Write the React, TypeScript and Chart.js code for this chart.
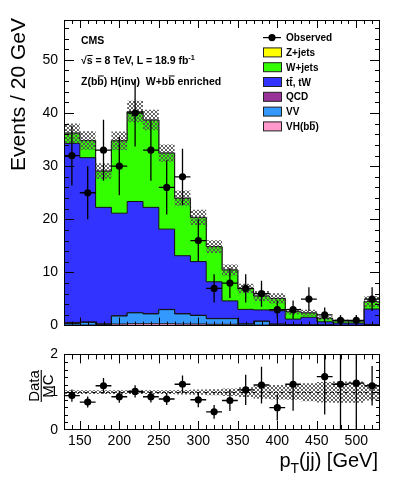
import React, { useEffect, useRef } from 'react';
import { Chart, registerables } from 'chart.js';

Chart.register(...registerables);

// ---------------- data ----------------
const binEdges = [130, 150, 170, 190, 210, 230, 250, 270, 290, 310, 330, 350, 370, 390, 410, 430, 450, 470, 490, 510, 530];
const binCenters = [140, 160, 180, 200, 220, 240, 260, 280, 300, 320, 340, 360, 380, 400, 420, 440, 460, 480, 500, 520];
const observed = [32, 25, 33, 30, 40, 33, 26, 28, 16, 7, 8, 7, 6, 3, 3, 5, 2, 1, 1, 5];
const vhBB = [0.1, 0.1, 0.1, 0.3, 0.35, 0.35, 0.35, 0.3, 0.3, 0.25, 0.25, 0.1, 0.1, 0.1, 0.05, 0.05, 0.05, 0.02, 0.02, 0.05];
const diboson = [0.3, 0.5, 0.15, 1.5, 2.05, 1.85, 2.65, 1.9, 1.6, 1.05, 1.05, 0.2, 0.7, 0.15, 0.15, 0.1, 0.05, 0.03, 0.03, 0.15];
const qcd = [0.2, 0.1, 0.1, 0.05, 0.05, 0.05, 0.05, 0.05, 0.05, 0.05, 0.05, 0.05, 0.05, 0.05, 0.02, 0.02, 0.02, 0.02, 0.02, 0.02];
const ttbarTW = [33.7, 30.9, 21.9, 19.3, 20.9, 20.0, 15.1, 10.9, 10.1, 6.9, 3.3, 2.7, 2.1, 2.5, 1.0, 1.4, 0.6, 0.4, 0.4, 2.9];
const wJets = [1.9, 3.2, 6.8, 13.6, 16.9, 16.4, 14.3, 10.8, 8.3, 6.6, 5.8, 3.9, 2.6, 2.3, 1.4, 0.8, 0.65, 0.4, 0.35, 1.4];
const zJets = [0.02, 0.02, 0.02, 0.02, 0.02, 0.02, 0.02, 0.02, 0.02, 0.02, 0.02, 0.02, 0.02, 0.02, 0.02, 0.02, 0.02, 0.02, 0.02, 0.02];
const mcRelUnc = [0.05, 0.05, 0.05, 0.05, 0.05, 0.05, 0.05, 0.06, 0.07, 0.08, 0.1, 0.13, 0.17, 0.19, 0.2, 0.24, 0.27, 0.28, 0.28, 0.22];
const ratioValues: (number | null)[] = [0.91, 0.74, 1.17, 0.88, 1.02, 0.88, 0.82, 1.21, 0.8, 0.48, 0.78, 1.06, 1.19, 0.59, 1.21, null, 1.41, 1.21, 1.24, 1.17];
const xTickValues = [150, 200, 250, 300, 350, 400, 450, 500];
const yMainTicks = [0, 10, 20, 30, 40, 50];
const yRatioTicks = [0, 1, 2];

const FONT = '"Liberation Sans", Arial, Helvetica, sans-serif';

const colors = {
  vh: '#ff99cc',
  vv: '#3399ff',
  qcd: '#993399',
  tt: '#3333ff',
  w: '#33ff00',
  z: '#ffff00',
};

type Seg = { t: string; bar?: boolean; sup?: boolean; sub?: boolean };

function drawSegs(ctx: CanvasRenderingContext2D, x: number, y: number, segs: Seg[], size: number, weight: string) {
  let cx = x;
  for (const s of segs) {
    const sz = s.sup || s.sub ? size * 0.7 : size;
    ctx.font = `${weight} ${sz}px ${FONT}`;
    const dy = s.sup ? -size * 0.42 : s.sub ? size * 0.3 : 0;
    ctx.fillText(s.t, cx, y + dy);
    const w = ctx.measureText(s.t).width;
    if (s.bar) ctx.fillRect(cx + 0.5, y - size * 0.86, w - 0.5, Math.max(1, size * 0.09));
    cx += w;
  }
  return cx;
}

function makeHatch(): CanvasPattern | string {
  const c = document.createElement('canvas');
  c.width = 4;
  c.height = 4;
  const g = c.getContext('2d');
  if (!g) return 'rgba(128,128,128,0.5)';
  g.strokeStyle = 'rgba(80,80,80,1)';
  g.lineWidth = 0.9;
  g.beginPath();
  g.moveTo(0, 0);
  g.lineTo(4, 4);
  g.moveTo(4, 0);
  g.lineTo(0, 4);
  g.stroke();
  return g.createPattern(c, 'repeat') || 'rgba(128,128,128,0.5)';
}

const stepData = (vals: number[]) => binEdges.map((x, i) => ({ x, y: vals[Math.min(i, vals.length - 1)] }));

function drawFrameTicks(
  chart: any,
  yMinor: number[],
  yMajor: number[],
  yLens: [number, number],
  xLens: [number, number]
) {
  const { ctx, chartArea: a } = chart;
  const xs = chart.scales.x;
  const ys = chart.scales.y;
  ctx.save();
  ctx.strokeStyle = '#000';
  ctx.lineWidth = 1;
  ctx.beginPath();
  for (let v = 140; v < 530; v += 10) {
    const px = Math.round(xs.getPixelForValue(v)) + 0.5;
    const len = v % 50 === 0 ? xLens[0] : xLens[1];
    ctx.moveTo(px, a.bottom);
    ctx.lineTo(px, a.bottom - len);
    ctx.moveTo(px, a.top);
    ctx.lineTo(px, a.top + len);
  }
  const drawY = (v: number, len: number) => {
    const py = Math.round(ys.getPixelForValue(v)) + 0.5;
    ctx.moveTo(a.left, py);
    ctx.lineTo(a.left + len, py);
    ctx.moveTo(a.right, py);
    ctx.lineTo(a.right - len, py);
  };
  yMinor.forEach((v) => drawY(v, yLens[1]));
  yMajor.forEach((v) => drawY(v, yLens[0]));
  ctx.stroke();
  ctx.strokeRect(Math.round(a.left) + 0.5, Math.round(a.top) + 0.5, Math.round(a.right - a.left) - 1, Math.round(a.bottom - a.top) - 1);
  ctx.restore();
}

const App = () => {
  const mainRef = useRef<HTMLCanvasElement>(null);
  const ratioRef = useRef<HTMLCanvasElement>(null);

  useEffect(() => {
    if (!mainRef.current || !ratioRef.current) return;
    Chart.defaults.font.family = FONT;
    Chart.defaults.color = '#000';
    const hatch = makeHatch();

    const comps = [
      { data: vhBB, color: colors.vh },
      { data: diboson, color: colors.vv },
      { data: qcd, color: colors.qcd },
      { data: ttbarTW, color: colors.tt },
      { data: wJets, color: colors.w },
      { data: zJets, color: colors.z },
    ];
    const total = binCenters.map((_, i) => comps.reduce((s, c) => s + c.data[i], 0));
    const bandLo = total.map((t, i) => t * (1 - mcRelUnc[i]));
    const bandHi = total.map((t, i) => t * (1 + mcRelUnc[i]));

    const mainDatasets: any[] = comps.map((c, i) => ({
      type: 'line',
      data: stepData(c.data),
      stepped: true,
      fill: i === 0 ? 'origin' : '-1',
      backgroundColor: c.color,
      borderColor: '#111',
      borderWidth: 1,
      pointRadius: 0,
      stack: 'mc',
      order: 1,
    }));
    mainDatasets.push(
      {
        type: 'line',
        data: stepData(bandLo),
        stepped: true,
        fill: false,
        borderWidth: 0,
        borderColor: 'rgba(0,0,0,0)',
        pointRadius: 0,
        stack: 'bandLo',
        order: 0,
      },
      {
        type: 'line',
        data: stepData(bandHi),
        stepped: true,
        fill: '-1',
        backgroundColor: hatch,
        borderWidth: 0,
        borderColor: 'rgba(0,0,0,0)',
        pointRadius: 0,
        stack: 'bandHi',
        order: 0,
      },
      {
        type: 'line',
        data: binCenters.map((x, i) => ({ x, y: observed[i] })),
        showLine: false,
        pointRadius: 3.6,
        pointBackgroundColor: '#000',
        pointBorderColor: '#000',
        pointBorderWidth: 0,
        stack: 'obs',
        order: -1,
      }
    );

    const mainPlugin = {
      id: 'mainDecor',
      afterDatasetsDraw(chart: any) {
        const { ctx } = chart;
        const xs = chart.scales.x;
        const ys = chart.scales.y;
        // error bars
        ctx.save();
        ctx.strokeStyle = '#000';
        ctx.lineWidth = 1.3;
        ctx.beginPath();
        observed.forEach((n, i) => {
          const e = Math.sqrt(n);
          const px = xs.getPixelForValue(binCenters[i]);
          const py = ys.getPixelForValue(n);
          ctx.moveTo(px, ys.getPixelForValue(n - e));
          ctx.lineTo(px, ys.getPixelForValue(n + e));
          ctx.moveTo(xs.getPixelForValue(binEdges[i]), py);
          ctx.lineTo(xs.getPixelForValue(binEdges[i + 1]), py);
        });
        ctx.stroke();
        ctx.restore();

        const yMinor: number[] = [];
        for (let v = 2; v < 57.5; v += 2) if (v % 10 !== 0) yMinor.push(v);
        drawFrameTicks(chart, yMinor, yMainTicks.filter((v) => v > 0), [10, 5], [8, 4]);

        // annotations
        ctx.save();
        ctx.fillStyle = '#000';
        ctx.textAlign = 'left';
        ctx.textBaseline = 'alphabetic';
        drawSegs(ctx, 81, 44.3, [{ t: 'CMS' }], 10.5, 'bold');
        drawSegs(ctx, 81, 64, [{ t: '√' }, { t: 's', bar: true }, { t: ' = 8 TeV, L = 18.9 fb' }, { t: '-1', sup: true }], 10.5, 'bold');
        drawSegs(ctx, 81, 84.5, [{ t: 'Z(b' }, { t: 'b', bar: true }, { t: ') H(inv)  W+b' }, { t: 'b', bar: true }, { t: ' enriched' }], 10.5, 'bold');

        // legend
        const rows: { segs: Seg[]; color?: string }[] = [
          { segs: [{ t: 'Observed' }] },
          { segs: [{ t: 'Z+jets' }], color: colors.z },
          { segs: [{ t: 'W+jets' }], color: colors.w },
          { segs: [{ t: 't' }, { t: 't', bar: true }, { t: ', tW' }], color: colors.tt },
          { segs: [{ t: 'QCD' }], color: colors.qcd },
          { segs: [{ t: 'VV' }], color: colors.vv },
          { segs: [{ t: 'VH(b' }, { t: 'b', bar: true }, { t: ')' }], color: colors.vh },
        ];
        rows.forEach((r, i) => {
          const cy = 37.6 + i * 14.8;
          if (!r.color) {
            ctx.strokeStyle = '#000';
            ctx.lineWidth = 1.2;
            ctx.beginPath();
            ctx.moveTo(263, cy);
            ctx.lineTo(281, cy);
            ctx.stroke();
            ctx.beginPath();
            ctx.arc(272, cy, 3.6, 0, Math.PI * 2);
            ctx.fill();
          } else {
            ctx.fillStyle = r.color;
            ctx.fillRect(263, cy - 4.5, 18, 9);
            ctx.strokeStyle = '#222';
            ctx.lineWidth = 1;
            ctx.strokeRect(263.5, cy - 4.5, 18, 9);
            ctx.fillStyle = '#000';
          }
          drawSegs(ctx, 286, cy + 3.6, r.segs, 10, 'bold');
        });

        // y title
        ctx.translate(25, 18);
        ctx.rotate(-Math.PI / 2);
        ctx.textAlign = 'right';
        ctx.font = `21px ${FONT}`;
        ctx.fillText('Events / 20 GeV', 0, 0);
        ctx.restore();
      },
    };

    const mainChart = new Chart(mainRef.current, {
      type: 'line',
      data: { datasets: mainDatasets },
      options: {
        animation: false,
        responsive: false,
        devicePixelRatio: 1,
        layout: { padding: { top: 20, right: 19, bottom: 12, left: 0 } },
        plugins: { legend: { display: false }, tooltip: { enabled: false } },
        scales: {
          x: { type: 'linear', min: 130, max: 530, display: false },
          y: {
            type: 'linear',
            min: 0,
            max: 57.5,
            stacked: true,
            afterBuildTicks: (a: any) => {
              a.ticks = yMainTicks.map((v) => ({ value: v }));
            },
            afterFit: (s: any) => {
              s.width = 64;
            },
            grid: { display: false, drawTicks: false },
            border: { display: false },
            ticks: { color: '#000', font: { size: 14, family: FONT }, padding: 6, autoSkip: false },
          },
        },
      } as any,
      plugins: [mainPlugin],
    });

    // ---------------- ratio ----------------
    const ratioDatasets: any[] = [
      {
        type: 'line',
        data: stepData(mcRelUnc.map((u) => 1 - u)),
        stepped: true,
        fill: false,
        borderWidth: 0,
        borderColor: 'rgba(0,0,0,0)',
        pointRadius: 0,
        order: 1,
      },
      {
        type: 'line',
        data: stepData(mcRelUnc.map((u) => 1 + u)),
        stepped: true,
        fill: '-1',
        backgroundColor: hatch,
        borderWidth: 0,
        borderColor: 'rgba(0,0,0,0)',
        pointRadius: 0,
        order: 1,
      },
      {
        type: 'line',
        data: binCenters.map((x, i) => ({ x, y: ratioValues[i] })),
        showLine: false,
        pointRadius: 3.6,
        pointBackgroundColor: '#000',
        pointBorderColor: '#000',
        pointBorderWidth: 0,
        order: -1,
      },
    ];

    const ratioPlugin = {
      id: 'ratioDecor',
      beforeDatasetsDraw(chart: any) {
        const { ctx, chartArea: a } = chart;
        const ys = chart.scales.y;
        ctx.save();
        ctx.strokeStyle = '#000';
        ctx.lineWidth = 1;
        ctx.setLineDash([4, 3]);
        const py = Math.round(ys.getPixelForValue(1)) + 0.5;
        ctx.beginPath();
        ctx.moveTo(a.left, py);
        ctx.lineTo(a.right, py);
        ctx.stroke();
        ctx.restore();
      },
      afterDatasetsDraw(chart: any) {
        const { ctx, chartArea: a } = chart;
        const xs = chart.scales.x;
        const ys = chart.scales.y;
        ctx.save();
        ctx.beginPath();
        ctx.rect(a.left, a.top, a.right - a.left, a.bottom - a.top);
        ctx.clip();
        ctx.strokeStyle = '#000';
        ctx.lineWidth = 1.3;
        ctx.beginPath();
        ratioValues.forEach((r, i) => {
          if (r === null) return;
          const e = r / Math.sqrt(observed[i]);
          const px = xs.getPixelForValue(binCenters[i]);
          const py = ys.getPixelForValue(r);
          ctx.moveTo(px, ys.getPixelForValue(r - e));
          ctx.lineTo(px, ys.getPixelForValue(r + e));
          ctx.moveTo(xs.getPixelForValue(binEdges[i]), py);
          ctx.lineTo(xs.getPixelForValue(binEdges[i + 1]), py);
        });
        ctx.stroke();
        ctx.restore();

        const yMinor: number[] = [];
        for (let k = 1; k < 10; k++) if (k % 5 !== 0) yMinor.push(k * 0.2);
        drawFrameTicks(chart, yMinor, [1], [8, 4], [9, 5]);

        ctx.save();
        ctx.fillStyle = '#000';
        // Data / MC
        ctx.save();
        ctx.translate(39.3, 46);
        ctx.rotate(-Math.PI / 2);
        ctx.textAlign = 'center';
        ctx.textBaseline = 'alphabetic';
        ctx.font = `15px ${FONT}`;
        ctx.fillText('Data', 0, 0);
        ctx.fillRect(-16, 1.4, 32, 1.1);
        ctx.fillText('MC', 0, 13.3);
        ctx.restore();

        // x title
        ctx.textAlign = 'left';
        ctx.textBaseline = 'alphabetic';
        const segs: Seg[] = [{ t: 'p' }, { t: 'T', sub: true }, { t: '(jj) [GeV]' }];
        let w = 0;
        segs.forEach((s) => {
          ctx.font = `${s.sub ? 14 : 20}px ${FONT}`;
          w += ctx.measureText(s.t).width;
        });
        drawSegs(ctx, 378 - w, 127.3, segs, 20, 'normal');
        ctx.restore();
      },
    };

    const ratioChart = new Chart(ratioRef.current, {
      type: 'line',
      data: { datasets: ratioDatasets },
      options: {
        animation: false,
        responsive: false,
        devicePixelRatio: 1,
        layout: { padding: { top: 13, right: 19, bottom: 0, left: 0 } },
        plugins: { legend: { display: false }, tooltip: { enabled: false } },
        scales: {
          x: {
            type: 'linear',
            min: 130,
            max: 530,
            afterBuildTicks: (a: any) => {
              a.ticks = xTickValues.map((v) => ({ value: v }));
            },
            afterFit: (s: any) => {
              s.height = 49;
            },
            grid: { display: false, drawTicks: false },
            border: { display: false },
            ticks: { color: '#000', font: { size: 14, family: FONT }, padding: 3, autoSkip: false, maxRotation: 0 },
          },
          y: {
            type: 'linear',
            min: 0,
            max: 2,
            afterBuildTicks: (a: any) => {
              a.ticks = yRatioTicks.map((v) => ({ value: v }));
            },
            afterFit: (s: any) => {
              s.width = 64;
            },
            grid: { display: false, drawTicks: false },
            border: { display: false },
            ticks: { color: '#000', font: { size: 14, family: FONT }, padding: 6, autoSkip: false },
          },
        },
      } as any,
      plugins: [ratioPlugin],
    });

    return () => {
      mainChart.destroy();
      ratioChart.destroy();
    };
  }, []);

  return (
    <div style={{ position: 'absolute', left: 0, top: 0, width: 399, height: 479, background: '#fff' }}>
      <canvas ref={mainRef} width={399} height={340} style={{ position: 'absolute', left: 0, top: 0 }} />
      <canvas ref={ratioRef} width={399} height={139} style={{ position: 'absolute', left: 0, top: 340 }} />
    </div>
  );
};

export default App;
